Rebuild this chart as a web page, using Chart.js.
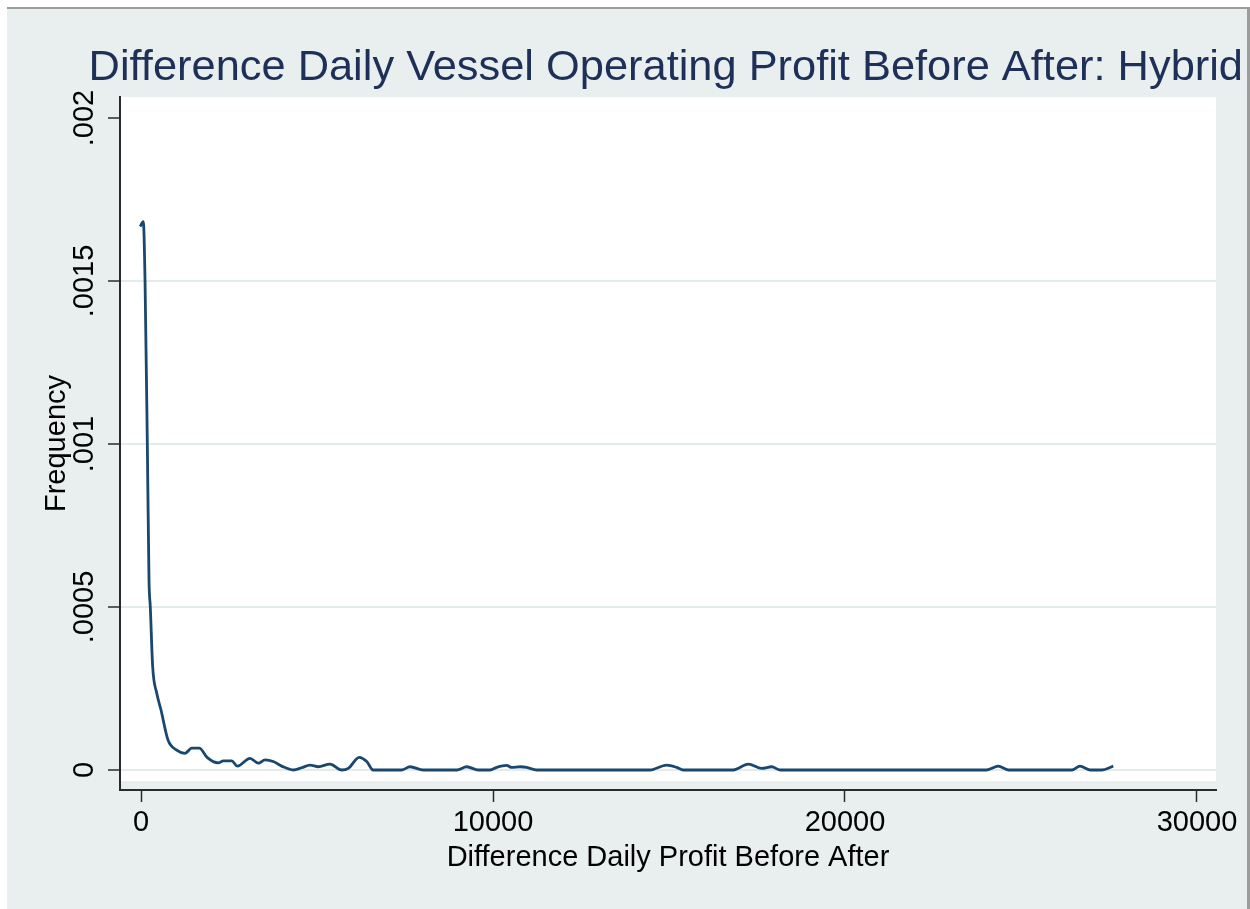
<!DOCTYPE html>
<html>
<head>
<meta charset="utf-8">
<script src="https://cdn.jsdelivr.net/npm/chart.js@4.4.1/dist/chart.umd.min.js"></script>
<style>
  body { margin: 0; background: #fff; }
  #frame {
    position: absolute; left: 7px; top: 7px; width: 1240px; height: 902px;
    background: #e9efef; border-top: 2px solid #9c9c9c; border-right: 3px solid #9c9c9c;
  }
  #chart { display: block; }
</style>
</head>
<body>
<div id="frame"><canvas id="chart" width="1240" height="900"></canvas></div>
<script>
// kernel density
const profitX = [-25, 65, 114, 179, 227, 264, 332, 446, 568, 767, 1014, 1250, 1440, 1656, 1884,
  2196, 2338, 2577, 2736, 3097, 3332, 3523, 3759, 3997, 4327, 4565, 4801, 5037, 5369, 5702,
  5889, 6202, 6412, 6599, 7406, 7642, 8020, 8969, 9253, 9582, 9915, 10105, 10389, 10531, 10767,
  10957, 11241, 14460, 14935, 15219, 15406, 16827, 17253, 17634, 17918, 18153, 24026, 24355,
  24639, 26440, 26676, 26960, 27293, 27622];
const density = [0.001667, 0.001682, 0.001503, 0.001003, 0.000583, 0.0005, 0.000316, 0.000236,
  0.000184, 0.000092, 0.000061, 0.000051, 0.000067, 0.000067, 0.000038, 0.000022, 0.000028,
  0.000028, 0.000012, 0.000036, 0.000021, 0.000031, 0.000026, 0.000012, 0, 0.000007, 0.000015,
  0.00001, 0.000018, 0, 0.000005, 0.000039, 0.000026, 0, 0, 0.00001, 0, 0, 0.00001, 0, 0,
  0.000008, 0.000014, 0.000008, 0.00001, 0.000008, 0, 0, 0.000015, 0.000008, 0, 0, 0.000018,
  0.000005, 0.00001, 0, 0, 0.000012, 0, 0, 0.000012, 0, 0, 0.000012];

const xTicks = [0, 10000, 20000, 30000];
const yTicks = [0, 0.0005, 0.001, 0.0015, 0.002];
const yTickLabels = ["0", ".0005", ".001", ".0015", ".002"];
const xRange = [-597, 30540];
const yRange = [-0.0000613, 0.0020644];
const plotFloor = -0.0000337; // white plot region stops a bit above the x axis

const font = "'Liberation Sans', Arial, Helvetica, sans-serif";
const axisColor = "#2a2a2a";
const gridColor = "#e4ebeb";

// white plot region, stata style
const plotRegion = {
  id: "plotRegion",
  beforeDraw(chart) {
    const { ctx, chartArea } = chart;
    const bottom = chart.scales.y.getPixelForValue(plotFloor);
    ctx.save();
    ctx.fillStyle = "#ffffff";
    ctx.fillRect(chartArea.left, chartArea.top, chartArea.right - chartArea.left, bottom - chartArea.top);
    ctx.restore();
  },
};

const ctx = document.getElementById("chart");
new Chart(ctx, {
  type: "line",
  data: {
    datasets: [{
      label: "Density",
      data: profitX.map((x, i) => ({ x, y: density[i] })),
      borderColor: "#1a476f",
      borderWidth: 2.8,
      pointRadius: 0,
      cubicInterpolationMode: "monotone",
      fill: false,
    }],
  },
  options: {
    responsive: false,
    animation: false,
    devicePixelRatio: 1,
    layout: { padding: { top: 0, left: 0, right: 4, bottom: 0 } },
    plugins: {
      legend: { display: false },
      tooltip: { enabled: false },
      title: {
        display: true,
        text: "Difference Daily Vessel Operating Profit Before After: Hybrid",
        align: "end",
        color: "#1e2f58",
        font: { family: font, size: 43.4, weight: "normal", lineHeight: 1 },
        padding: { top: 37.6, bottom: 7 },
      },
    },
    scales: {
      x: {
        type: "linear",
        min: xRange[0],
        max: xRange[1],
        afterBuildTicks: (s) => { s.ticks = xTicks.map((v) => ({ value: v })); },
        afterFit: (s) => { s.height = 119; },
        grid: { drawOnChartArea: false, drawTicks: true, tickLength: 12, tickColor: axisColor, tickWidth: 1.5 },
        border: { display: true, color: axisColor, width: 2 },
        ticks: {
          color: "#000",
          padding: 4,
          maxRotation: 0,
          font: { family: font, size: 29 },
          callback: (v) => String(v),
        },
        title: {
          display: true,
          text: "Difference Daily Profit Before After",
          color: "#000",
          font: { family: font, size: 29 },
          padding: { top: 0, bottom: 34 },
        },
      },
      y: {
        type: "linear",
        min: yRange[0],
        max: yRange[1],
        afterBuildTicks: (s) => { s.ticks = yTicks.map((v) => ({ value: v })); },
        afterFit: (s) => { s.width = 113; },
        grid: {
          color: (c) => (c.tick && c.tick.value === 0.002 ? "rgba(0,0,0,0)" : gridColor),
          lineWidth: 2,
          drawTicks: true,
          tickLength: 12,
          tickColor: axisColor,
          tickWidth: 1.5,
        },
        border: { display: true, color: axisColor, width: 2 },
        ticks: {
          color: "#000",
          minRotation: 90,
          maxRotation: 90,
          crossAlign: "center",
          padding: -13,
          font: { family: font, size: 29 },
          callback: (v, i) => yTickLabels[i],
        },
        title: {
          display: true,
          text: "Frequency",
          color: "#000",
          font: { family: font, size: 29 },
          padding: { top: 33, bottom: 0 },
        },
      },
      pad: {
        type: "linear",
        position: "right",
        display: true,
        afterFit: (s) => { s.width = 27; },
        grid: { display: false, drawTicks: false },
        border: { display: false },
        ticks: { display: false },
      },
    },
  },
  plugins: [plotRegion],
});
</script>
</body>
</html>
